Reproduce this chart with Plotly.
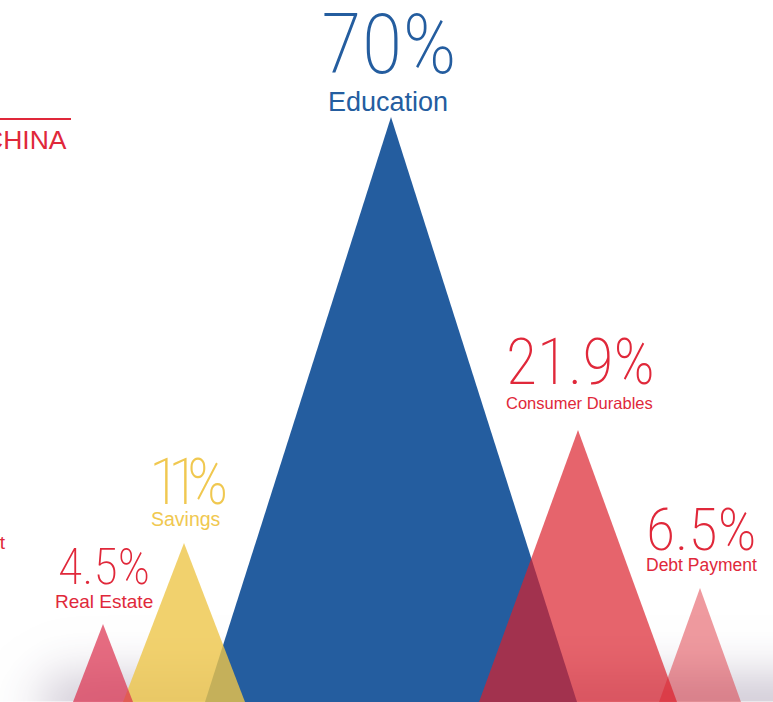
import numpy as np
import plotly.graph_objects as go

# ---------------- data ----------------
categories = ["Real Estate", "Savings", "Education", "Consumer Durables", "Debt Payment"]
shares = [4.5, 11, 70, 21.9, 6.5]                 # percent
peak_height = [78, 159, 585, 272, 114]            # triangle height (visual units)
x_pos = [103, 184, 391, 578, 700]                 # horizontal placement of each peak

# ---------------- styling ----------------
W, H = 773, 702
BLUE = "rgb(36,93,159)"
RED_TXT = "rgb(224,40,58)"
YEL_TXT = "rgb(240,200,80)"

base_half = [30, 61, 186, 99, 41]
fills = ["rgba(219,45,75,0.70)", "rgba(238,197,73,0.80)", BLUE,
         "rgba(219,30,42,0.69)", "rgba(219,30,42,0.45)"]
txt_col = [RED_TXT, YEL_TXT, BLUE, RED_TXT, RED_TXT]
num_size = [50, 64, 84, 64, 60]
num_ls = [0, -12, 0, 0, 0]
num_off = [57, 61, 73, 68, 59]
num_dx = [1, 9, -2, 2, 1]
lab_size = [19, 19.5, 27, 16.5, 17.5]
lab_off = [23, 24, 15.5, 27, 23]
lab_dx = [1, 2, -3, 1, 1]
draw_order = [2, 1, 0, 3, 4]
NUM_FONT = "Roboto Condensed, Noto Sans"

fig = go.Figure()

# soft bottom shadow
xs = np.linspace(0, W, 90)
ys = np.linspace(0, 130, 45)
X, Y = np.meshgrid(xs, ys)
Z = np.exp(-(Y / 40.0) ** 2) * (1 / (1 + np.exp(-(X - 45) / 15.0)))
fig.add_trace(go.Heatmap(
    x=xs, y=ys, z=Z, zmin=0, zmax=1, zsmooth="best", showscale=False,
    hoverinfo="skip",
    colorscale=[[0, "rgba(90,70,110,0)"], [1, "rgba(90,70,110,0.24)"]],
))

for i in draw_order:
    cx, h, hw = x_pos[i], peak_height[i], base_half[i]
    fig.add_trace(go.Scatter(
        x=[cx - hw, cx, cx + hw, cx - hw], y=[0, h, 0, 0],
        mode="lines", fill="toself", fillcolor=fills[i],
        line=dict(width=0), hoverinfo="skip", showlegend=False,
    ))

ann = []
for i, cat in enumerate(categories):
    cx, h = x_pos[i], peak_height[i]
    ann.append(dict(
        x=cx, y=h, xref="x", yref="y", xshift=num_dx[i] + num_ls[i] / 2, yshift=num_off[i],
        text=f'<span style="letter-spacing:{num_ls[i]}px">{shares[i]:g}%</span>',
        showarrow=False, xanchor="center", yanchor="middle",
        font=dict(family=NUM_FONT, size=num_size[i], color=txt_col[i], weight=200),
    ))
    ann.append(dict(
        x=cx, y=h, xref="x", yref="y", xshift=lab_dx[i], yshift=lab_off[i],
        text=cat, showarrow=False, xanchor="center", yanchor="middle",
        font=dict(family="Liberation Sans, Arial", size=lab_size[i], color=txt_col[i]),
    ))

# cut-off texts at the left edge
ann.append(dict(x=69, y=H - 140, xref="x", yref="y", text="CHINA", showarrow=False,
                xanchor="right", yanchor="middle",
                font=dict(family="Liberation Sans, Arial", size=26.5, color=RED_TXT)))
ann.append(dict(x=8, y=H - 542, xref="x", yref="y", text="Investment", showarrow=False,
                xanchor="right", yanchor="middle",
                font=dict(family="Liberation Sans, Arial", size=19, color=RED_TXT)))

fig.update_layout(
    width=W, height=H, margin=dict(l=0, r=0, t=0, b=0),
    paper_bgcolor="white", plot_bgcolor="white", showlegend=False,
    xaxis=dict(range=[0, W], visible=False, fixedrange=True),
    yaxis=dict(range=[0, H], visible=False, fixedrange=True),
    annotations=ann,
    shapes=[dict(type="line", xref="x", yref="y", x0=0, x1=71, y0=H - 119, y1=H - 119,
                 line=dict(color=RED_TXT, width=2))],
)

fig.write_html("out.html")
